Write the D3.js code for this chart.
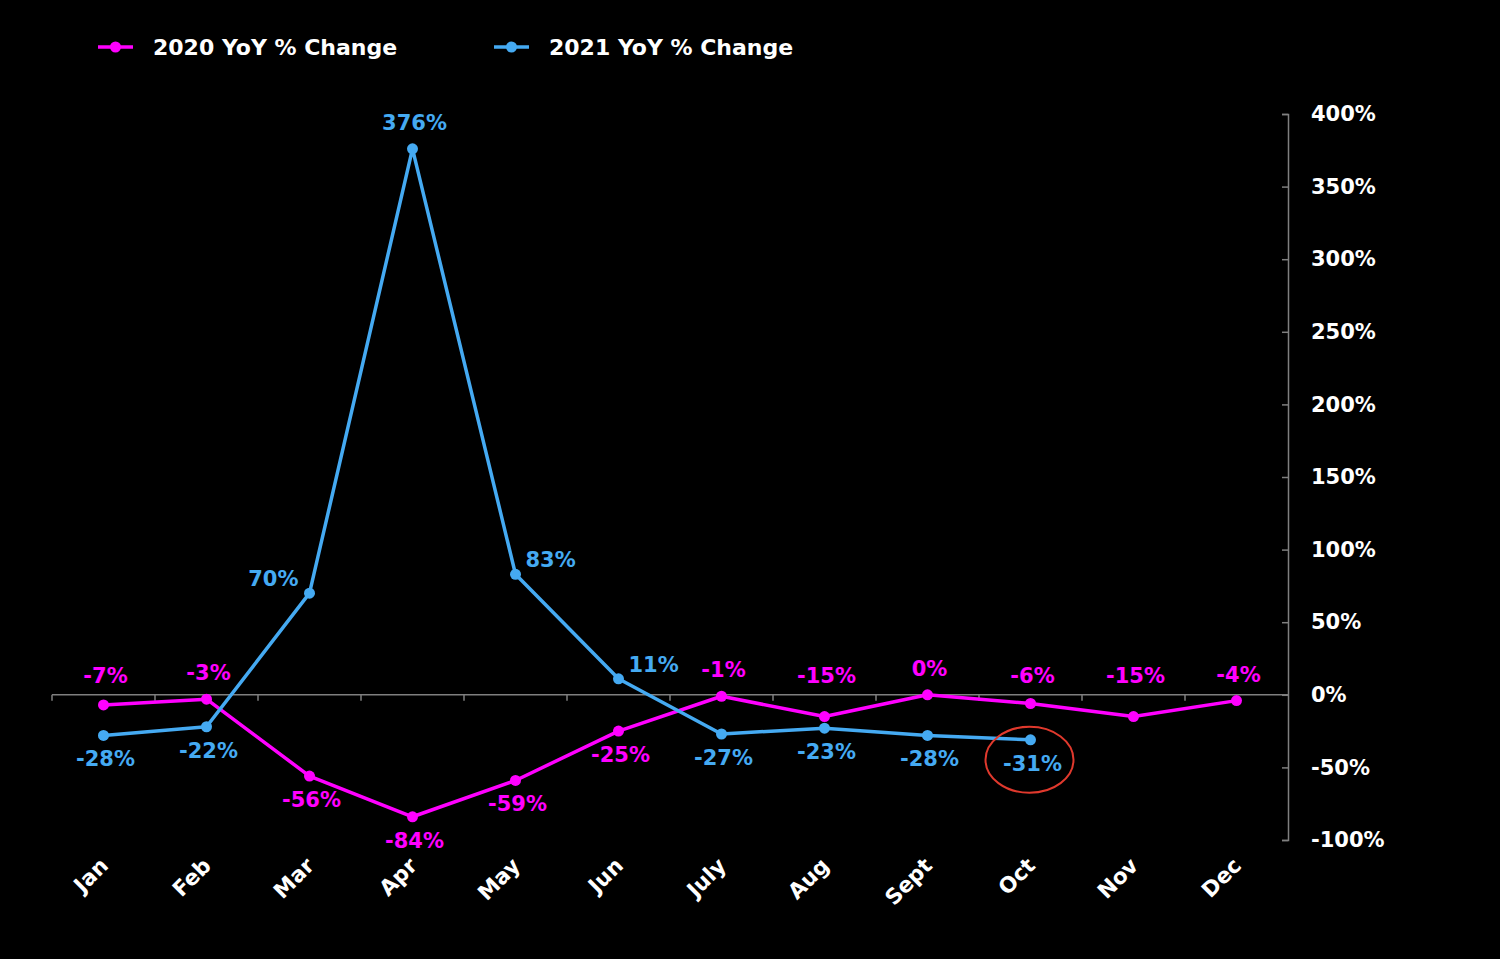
<!DOCTYPE html>
<html>
<head>
<meta charset="utf-8">
<script src="https://cdn.jsdelivr.net/npm/d3@7"></script>
<style>
  html, body { margin: 0; padding: 0; background: #000; }
  svg { display: block; }
  text { font-family: 'DejaVu Sans', Verdana, sans-serif; font-weight: bold; }
</style>
</head>
<body>
<svg id="chart"></svg>
<script>
// chart data
const months = ['Jan', 'Feb', 'Mar', 'Apr', 'May', 'Jun', 'July', 'Aug', 'Sept', 'Oct', 'Nov', 'Dec'];
const yoy2020 = [-7, -3, -56, -84, -59, -25, -1, -15, 0, -6, -15, -4];
const yoy2021 = [-28, -22, 70, 376, 83, 11, -27, -23, -28, -31];
const seriesNames = ['2020 YoY % Change', '2021 YoY % Change'];
const yTicks = [-100, -50, 0, 50, 100, 150, 200, 250, 300, 350, 400];
// where each data label sits relative to its point
const place2020 = ['above', 'above', 'below', 'below', 'below', 'below', 'above', 'above', 'above', 'above', 'above', 'above'];
const place2021 = ['below', 'below', 'left', 'above', 'right', 'right', 'below', 'below', 'below', 'below'];
const highlightMonth = 'Oct';

// sizes
const width = 1500,
  height = 959;
const plotLeft = 52,
  plotRight = 1288,
  plotTop = 114,
  plotBottom = 840;

const colors = ['#ff00ff', '#45aaf2'];
const axisColor = '#7f7f7f';

const svg = d3.select('#chart').attr('width', width).attr('height', height);

const x = d3.scaleBand().domain(months).range([plotLeft, plotRight]).padding(0);
const y = d3.scaleLinear().domain([-100, 400]).range([plotBottom, plotTop]);
const cx = (m) => x(m) + x.bandwidth() / 2;

// y axis on the right, ticks pointing left
const yAxis = svg
  .append('g')
  .attr('transform', `translate(${plotRight},0)`)
  .call(d3.axisLeft(y).tickValues(yTicks).tickSize(6).tickFormat((d) => d + '%'));
yAxis.select('.domain').attr('stroke', axisColor).attr('stroke-width', 1.5);
yAxis.selectAll('.tick line').attr('stroke', axisColor).attr('stroke-width', 1.5);
yAxis
  .selectAll('.tick text')
  .attr('x', 23)
  .attr('text-anchor', 'start')
  .attr('fill', '#fff')
  .attr('font-size', 21)
  .attr('font-family', "'DejaVu Sans', Verdana, sans-serif");

// horizontal axis at zero with ticks on band edges
const xAxisG = svg.append('g').attr('transform', `translate(0,${y(0)})`);
xAxisG
  .append('line')
  .attr('x1', plotLeft)
  .attr('x2', plotRight)
  .attr('stroke', axisColor)
  .attr('stroke-width', 1.5);
xAxisG
  .selectAll('.xtick')
  .data(months)
  .join('line')
  .attr('class', 'xtick')
  .attr('x1', (d) => x(d))
  .attr('x2', (d) => x(d))
  .attr('y1', 0)
  .attr('y2', 6)
  .attr('stroke', axisColor)
  .attr('stroke-width', 1.5);

// month labels at the bottom, rotated
svg
  .append('g')
  .selectAll('text')
  .data(months)
  .join('text')
  .attr('transform', (d) => `translate(${cx(d) + 6},${plotBottom + 27}) rotate(-45)`)
  .attr('text-anchor', 'end')
  .attr('fill', '#fff')
  .attr('font-size', 21.5)
  .text((d) => d);

// series
const series = [
  { name: seriesNames[0], values: yoy2020, place: place2020, color: colors[0] },
  { name: seriesNames[1], values: yoy2021, place: place2021, color: colors[1] },
];

const line = d3
  .line()
  .x((d, i) => cx(months[i]))
  .y((d) => y(d));

series.forEach((s) => {
  const g = svg.append('g');
  g.append('path')
    .attr('d', line(s.values))
    .attr('fill', 'none')
    .attr('stroke', s.color)
    .attr('stroke-width', 3.5)
    .attr('stroke-linejoin', 'round');

  g.selectAll('circle')
    .data(s.values)
    .join('circle')
    .attr('cx', (d, i) => cx(months[i]))
    .attr('cy', (d) => y(d))
    .attr('r', 5.5)
    .attr('fill', s.color);

  // data labels
  g.selectAll('text')
    .data(s.values)
    .join('text')
    .attr('x', (d, i) => {
      const p = s.place[i];
      if (p === 'left') return cx(months[i]) - 11;
      if (p === 'right') return cx(months[i]) + 10;
      return cx(months[i]) + 2;
    })
    .attr('y', (d, i) => {
      const p = s.place[i];
      // keep labels above the zero line clear of it
      if (p === 'above') return Math.min(y(d) - 26, y(0) - 19);
      if (p === 'below') return y(d) + 24;
      return y(d) - 14;
    })
    .attr('dominant-baseline', 'central')
    .attr('text-anchor', (d, i) => {
      const p = s.place[i];
      return p === 'left' ? 'end' : p === 'right' ? 'start' : 'middle';
    })
    .attr('fill', s.color)
    .attr('font-size', 21)
    .text((d) => d + '%');
});

// red ring around the latest 2021 label
const hiIdx = months.indexOf(highlightMonth);
svg
  .append('ellipse')
  .attr('cx', cx(highlightMonth) - 1)
  .attr('cy', y(yoy2021[hiIdx]) + 20)
  .attr('rx', 44)
  .attr('ry', 33)
  .attr('fill', 'none')
  .attr('stroke', '#e0392d')
  .attr('stroke-width', 2);

// legend
const legendX = [98, 494];
const legend = svg
  .append('g')
  .selectAll('g')
  .data(series)
  .join('g')
  .attr('transform', (d, i) => `translate(${legendX[i]},47)`);
legend
  .append('line')
  .attr('x1', 0)
  .attr('x2', 35)
  .attr('stroke', (d) => d.color)
  .attr('stroke-width', 3.5);
legend
  .append('circle')
  .attr('cx', 17.5)
  .attr('r', 5.5)
  .attr('fill', (d) => d.color);
legend
  .append('text')
  .attr('x', 55)
  .attr('dominant-baseline', 'central')
  .attr('fill', '#fff')
  .attr('font-size', 22)
  .text((d) => d.name);
</script>
</body>
</html>
